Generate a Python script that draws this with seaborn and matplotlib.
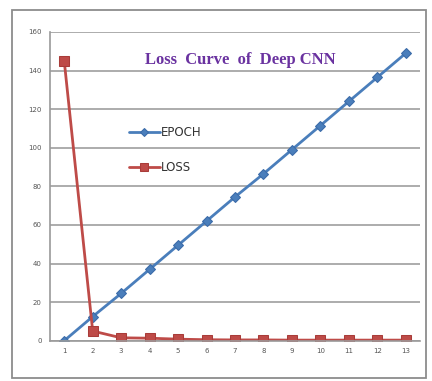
import matplotlib
matplotlib.use("Agg")
import matplotlib.pyplot as plt
from matplotlib.patches import Rectangle
import seaborn as sns
import numpy as np
import pandas as pd

# data
epochs = [1, 2, 3, 4, 5, 6, 7, 8, 9, 10, 11, 12, 13]
epoch_vals = [0, 12.5, 24.5, 37, 49.5, 62, 74.5, 86.5, 99, 111.5, 124, 136.5, 149]
loss_vals = [145, 5, 1.5, 1.3, 0.8, 0.5, 0.4, 0.4, 0.3, 0.3, 0.3, 0.3, 0.3]
y_ticks = [0, 20, 40, 60, 80, 100, 120, 140, 160]

df = pd.DataFrame({"x": epochs, "EPOCH": epoch_vals, "LOSS": loss_vals})

sns.set_theme(style="white")
plt.rcParams["font.family"] = ["DejaVu Sans"]

fig = plt.figure(figsize=(4.32, 3.81), dpi=100)
fig.patch.set_facecolor("white")

# outer chart border (Excel chart area)
fig.patches.append(Rectangle((12 / 432, 3 / 381), 414 / 432, 368 / 381,
                             transform=fig.transFigure, fill=False,
                             edgecolor="#8c8c8c", linewidth=1.3))

ax = fig.add_axes([50 / 432, 40.3 / 381, 370 / 432, 308.7 / 381])

sns.lineplot(data=df, x="x", y="EPOCH", ax=ax, color="#4a7ebb", linewidth=2.0,
             marker="D", markersize=5, markeredgecolor="#3a6aa8",
             label="EPOCH")
sns.lineplot(data=df, x="x", y="LOSS", ax=ax, color="#be4b48", linewidth=2.0,
             marker="s", markersize=7, markeredgecolor="#a93c39",
             label="LOSS")

ax.set_xlim(0.5, 13.5)
ax.set_ylim(0, 160)
ax.set_yticks(y_ticks)
ax.set_xticks(epochs)
ax.set_xticks(np.arange(1.5, 13.5, 1), minor=True)
ax.set_xlabel("")
ax.set_ylabel("")

ax.yaxis.grid(True, color="#a6a6a6", linewidth=1.3)
ax.set_axisbelow(True)
for s in ["top", "right"]:
    ax.spines[s].set_visible(False)
for s in ["left", "bottom"]:
    ax.spines[s].set_color("#9a9a9a")
    ax.spines[s].set_linewidth(1.2)

ax.tick_params(axis="both", labelsize=5, colors="#555555", length=0, pad=5)
ax.tick_params(axis="x", which="minor", length=3, color="#9a9a9a",
               direction="inout")
ax.tick_params(axis="y", which="major", length=3, color="#9a9a9a",
               direction="out", pad=3)

fig.text(240 / 432, 1 - 60 / 381, "Loss  Curve  of  Deep CNN",
         ha="center", va="center", color="#6a32a0", fontsize=12,
         fontweight="bold", family=["Liberation Serif", "DejaVu Serif"])

leg = ax.legend(loc="upper left", bbox_to_anchor=(0.185, 0.73), frameon=False,
                handlelength=2.6, labelspacing=1.9, handletextpad=0.1,
                markerscale=0.8,
                prop={"family": ["Liberation Sans Narrow", "DejaVu Sans"],
                      "size": 8.5})
for t in leg.get_texts():
    t.set_color("#333333")

fig.savefig("out.png", dpi=100)
